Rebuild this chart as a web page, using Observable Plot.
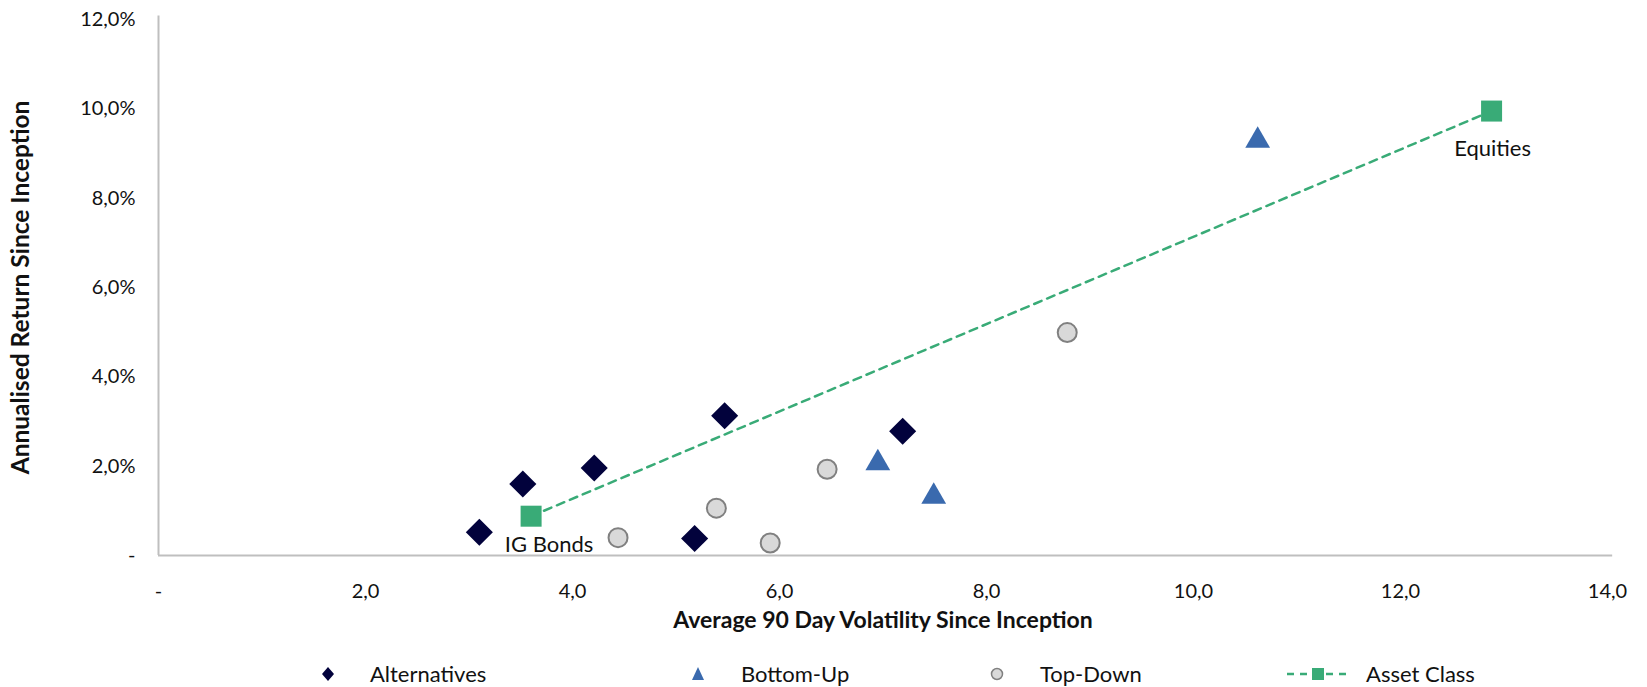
<!DOCTYPE html>
<html>
<head>
<meta charset="utf-8">
<script src="https://cdn.jsdelivr.net/npm/d3@7"></script>
<script src="https://cdn.jsdelivr.net/npm/@observablehq/plot@0.6"></script>
<style>
  html, body { margin: 0; padding: 0; background: #fff; }
  body { width: 1647px; height: 687px; overflow: hidden; font-family: Lato, "Open Sans", sans-serif; }
  #legend { position: relative; width: 1647px; height: 37px; font-size: 22px; color: #111; }
  #legend .item { position: absolute; top: 5px; height: 37px; display: flex; align-items: center; }
  #legend svg { display: block; }
</style>
</head>
<body>
<div id="chart"></div>
<div id="legend"></div>
<script>
// Alternatives
const altX = [3.10, 3.52, 4.21, 5.47, 5.18, 7.19];
const altY = [0.52, 1.60, 1.96, 3.13, 0.38, 2.78];
// Bottom-Up
const buX = [10.62, 6.95, 7.49];
const buY = [9.29, 2.07, 1.32];
// Top-Down
const tdX = [4.44, 5.39, 5.91, 6.46, 8.78];
const tdY = [0.40, 1.06, 0.28, 1.93, 4.99];
// Asset Class
const acNames = ["IG Bonds", "Equities"];
const acX = [3.60, 12.88];
const acY = [0.88, 9.95];

const xTicks = [0, 2, 4, 6, 8, 10, 12, 14];
const yTicks = [0, 2, 4, 6, 8, 10, 12];
const seriesNames = ["Alternatives", "Bottom-Up", "Top-Down", "Asset Class"];

const C = {alt: "#02023c", bu: "#3a6aae", tdFill: "#d9d9d9", tdStroke: "#808080", ac: "#39ab77", axis: "#bfbfbf"};

const toRows = (xs, ys) => xs.map((x, i) => ({x, y: ys[i]}));
const alt = toRows(altX, altY);
const bu = toRows(buX, buY);
const td = toRows(tdX, tdY);
const ac = acX.map((x, i) => ({x, y: acY[i], name: acNames[i]}));

const fmtX = d => d === 0 ? "-" : d.toFixed(1).replace(".", ",");
const fmtY = d => d === 0 ? "-" : d.toFixed(1).replace(".", ",") + "%";

const chart = Plot.plot({
  width: 1647,
  height: 650,
  marginLeft: 158,
  marginRight: 40,
  marginTop: 19,
  marginBottom: 95,
  style: {fontFamily: "Lato, 'Open Sans', sans-serif", fontSize: "20px", color: "#111", background: "#fff"},
  x: {domain: [0, 14], ticks: xTicks},
  y: {domain: [0, 12], ticks: yTicks},
  marks: [
    Plot.axisX({ticks: xTicks, tickFormat: fmtX, tickSize: 0, tickPadding: 28, label: null, fontSize: 20}),
    Plot.axisY({ticks: yTicks, tickFormat: fmtY, tickSize: 0, tickPadding: 23, label: null, fontSize: 20}),
    Plot.ruleX([0], {y1: 0, y2: 12.08, stroke: C.axis, strokeWidth: 2}),
    Plot.ruleY([0], {x1: 0, x2: 14.05, stroke: C.axis, strokeWidth: 2}),
    Plot.line(ac, {x: "x", y: "y", stroke: C.ac, strokeWidth: 2.5, strokeDasharray: "8,6"}),
    Plot.dot(alt, {x: "x", y: "y", symbol: "diamond2", r: 12.2, fill: C.alt, stroke: "none"}),
    Plot.dot(bu, {x: "x", y: "y", symbol: "triangle", r: 9.2, fill: C.bu, stroke: "none"}),
    Plot.dot(td, {x: "x", y: "y", symbol: "circle", r: 9.5, fill: C.tdFill, stroke: C.tdStroke, strokeWidth: 2}),
    Plot.dot(ac, {x: "x", y: "y", symbol: "square", r: 11.85, fill: C.ac, stroke: "none"}),
    Plot.text(ac.filter(d => d.name === "IG Bonds"), {x: "x", y: "y", text: "name", dx: 18, dy: 29, fontSize: 22, fill: "#111"}),
    Plot.text(ac.filter(d => d.name === "Equities"), {x: "x", y: "y", text: "name", dx: 1, dy: 38, fontSize: 22, fill: "#111"}),
    Plot.text(["Annualised Return Since Inception"], {frameAnchor: "left", textAnchor: "middle", rotate: -90, dx: -137, fontWeight: "bold", fontSize: 24.5, fill: "#111"}),
    Plot.text(["Average 90 Day Volatility Since Inception"], {frameAnchor: "bottom", dy: 72, fontWeight: "bold", fontSize: 23, fill: "#111"})
  ]
});
document.getElementById("chart").appendChild(chart);

// Legend
const legend = document.getElementById("legend");
const icons = {
  "Alternatives": `<svg width="16" height="20"><path d="M8,3 L14,10 L8,17 L2,10 Z" fill="${C.alt}"/></svg>`,
  "Bottom-Up": `<svg width="16" height="20"><path d="M8,3 L14,16 L2,16 Z" fill="${C.bu}"/></svg>`,
  "Top-Down": `<svg width="16" height="20"><circle cx="8" cy="10" r="5.5" fill="${C.tdFill}" stroke="${C.tdStroke}" stroke-width="1.5"/></svg>`,
  "Asset Class": `<svg width="62" height="20"><line x1="0" y1="10" x2="62" y2="10" stroke="${C.ac}" stroke-width="2.5" stroke-dasharray="7,6"/><rect x="25" y="4" width="12" height="12" fill="${C.ac}"/></svg>`
};
const legendPos = {"Alternatives": 320, "Bottom-Up": 690, "Top-Down": 989, "Asset Class": 1287};
const gap = {"Alternatives": 34, "Bottom-Up": 35, "Top-Down": 35, "Asset Class": 17};
seriesNames.forEach(name => {
  const it = document.createElement("div");
  it.className = "item";
  it.style.left = legendPos[name] + "px";
  it.innerHTML = icons[name] + `<span style="margin-left:${gap[name]}px">${name}</span>`;
  legend.appendChild(it);
});
</script>
</body>
</html>
